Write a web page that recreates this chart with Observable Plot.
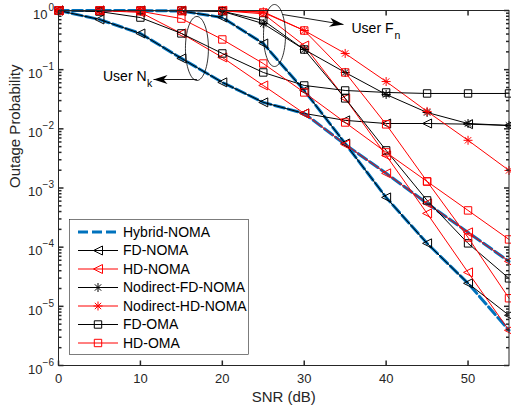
<!DOCTYPE html>
<html><head><meta charset="utf-8">
<script src="https://cdn.jsdelivr.net/npm/d3@7"></script>
<script src="https://cdn.jsdelivr.net/npm/@observablehq/plot@0.6"></script>
<style>
body{margin:0;background:#fff;}
#wrap{position:relative;width:511px;height:414px;font-family:"Liberation Sans",Arial,Helvetica,sans-serif;}
</style></head><body><div id="wrap"></div>
<script>
// ---- data ----
const snr = [0, 5, 10, 15, 20, 25, 30, 35, 40, 45, 50, 55];
const hybridNear  = [1, 0.705, 0.409, 0.155, 0.061, 0.028, 0.0182, 0.00545, 0.00177, 0.00055, 0.000178, 0.0000575];
const hybridFar   = [1, 1, 1, 0.98, 0.762, 0.277, 0.0445, 0.00566, 0.000693, 0.000116, 0.0000245, 0.00000393];
const fdNomaNear  = [1, 0.705, 0.409, 0.155, 0.061, 0.028, 0.0182, 0.0139, 0.0123, 0.0123, 0.012, 0.0114];
const fdNomaFar   = [1, 1, 1, 0.98, 0.762, 0.277, 0.0445, 0.00566, 0.000693, 0.000116, 0.0000245, 0.00000705];
const hdNomaNear  = [1, 0.995, 0.93, 0.41, 0.161, 0.0541, 0.0182, 0.00545, 0.00177, 0.00055, 0.000178, 0.0000575];
const hdNomaFar   = [1, 1, 1, 1, 0.99, 0.88, 0.256, 0.0327, 0.00355, 0.000372, 0.0000375, 0.00000393];
const ndFdNomaFar = [1, 1, 1, 1, 0.97, 0.6, 0.219, 0.0897, 0.0381, 0.0189, 0.0123, 0.0114];
const ndHdNomaFar = [1, 1, 1, 1, 1, 0.95, 0.459, 0.188, 0.063, 0.0197, 0.0064, 0.00198];
const fdOmaNear   = [1, 0.96, 0.76, 0.41, 0.188, 0.0897, 0.0541, 0.0445, 0.0412, 0.0396, 0.0396, 0.0396];
const fdOmaFar    = [1, 1, 1, 1, 0.97, 0.68, 0.219, 0.0327, 0.00432, 0.000617, 0.000116, 0.0000297];
const hdOmaNear   = [1, 1, 0.97, 0.73, 0.324, 0.127, 0.0412, 0.0128, 0.004, 0.00129, 0.000418, 0.000135];
const hdOmaFar    = [1, 1, 1, 1, 1, 0.925, 0.459, 0.0897, 0.0119, 0.00129, 0.000146, 0.0000137];

const legendNames = ["Hybrid-NOMA", "FD-NOMA", "HD-NOMA", "Nodirect-FD-NOMA", "Nodirect-HD-NOMA", "FD-OMA", "HD-OMA"];
const xTickValues = [0, 10, 20, 30, 40, 50];
const xTickLabels = ["0", "10", "20", "30", "40", "50"];
const yTickValues = [1, 0.1, 0.01, 0.001, 0.0001, 0.00001, 0.000001];
const yTickExponents = ["0", "\u22121", "\u22122", "\u22123", "\u22124", "\u22125", "\u22126"];
const xLabel = "SNR (dB)";
const yLabel = "Outage Probability";

// annotations (data coordinates)
const nkEllipse = [{x: 16.9, y: 0.228}];
const nkArrow = [{x1: 16.9, y1: 0.0682, x2: 11.6, y2: 0.0682}];
const nkLabel = [{x: 10.75, y: 0.0767, main: "User N", sub: "k"}];
const fnEllipse = [{x: 26.37, y: 0.378}];
const fnArrow = [{x1: 27.35, y1: 0.856, x2: 34.79, y2: 0.58}];
const fnLabel = [{x: 40.9, y: 0.496, main: "User F", sub: "n"}];

// ---- styles ----
const axisColor = "#262626";
const blue = "#0072BD";
const triLeft = {draw(c){const s=4.5; c.moveTo(-s,0); c.lineTo(s,-s); c.lineTo(s,s); c.closePath();}};
const square = {draw(c){const s=3.7; c.moveTo(-s,-s); c.lineTo(s,-s); c.lineTo(s,s); c.lineTo(-s,s); c.closePath();}};
const star = {draw(c){const r=4.5, d=r*0.707; c.moveTo(-r,0);c.lineTo(r,0);c.moveTo(0,-r);c.lineTo(0,r);c.moveTo(-d,-d);c.lineTo(d,d);c.moveTo(-d,d);c.lineTo(d,-d);}};
const tickUp = {draw(c){c.moveTo(0,0); c.lineTo(0,-5);}};
const tickDown = {draw(c){c.moveTo(0,0); c.lineTo(0,5);}};
const tickRight = {draw(c){c.moveTo(0,0); c.lineTo(5,0);}};
const tickLeft = {draw(c){c.moveTo(0,0); c.lineTo(-5,0);}};
const minorRight = {draw(c){c.moveTo(0,0); c.lineTo(3,0);}};
const minorLeft = {draw(c){c.moveTo(0,0); c.lineTo(-3,0);}};
function ellipseSym(rx, ry){ const k=0.5523; return {draw(c){
  c.moveTo(rx,0); c.bezierCurveTo(rx,k*ry,k*rx,ry,0,ry); c.bezierCurveTo(-k*rx,ry,-rx,k*ry,-rx,0);
  c.bezierCurveTo(-rx,-k*ry,-k*rx,-ry,0,-ry); c.bezierCurveTo(k*rx,-ry,rx,-k*ry,rx,0); c.closePath();}}; }
const arrowHead = {draw(c){c.moveTo(0,0); c.lineTo(-14,-4.5); c.lineTo(-10,0); c.lineTo(-14,4.5); c.closePath();}};

const series = [
  {name: legendNames[0], curves: [hybridNear, hybridFar], color: blue, sym: null, dash: "10,4", width: 3},
  {name: legendNames[1], curves: [fdNomaNear, fdNomaFar], color: "#000000", sym: triLeft},
  {name: legendNames[2], curves: [hdNomaNear, hdNomaFar], color: "#FF0000", sym: triLeft},
  {name: legendNames[3], curves: [ndFdNomaFar], color: "#000000", sym: star},
  {name: legendNames[4], curves: [ndHdNomaFar], color: "#FF0000", sym: star},
  {name: legendNames[5], curves: [fdOmaNear, fdOmaFar], color: "#000000", sym: square},
  {name: legendNames[6], curves: [hdOmaNear, hdOmaFar], color: "#FF0000", sym: square}
];

const minorTicks = [];
for (let e = -6; e < 0; e++) for (let m = 2; m <= 9; m++) minorTicks.push(m * Math.pow(10, e));

const marks = [];
for (const s of series) {
  for (const vals of s.curves) {
    const rows = snr.map((x, i) => ({snr: x, p: vals[i]}));
    marks.push(Plot.line(rows, {x: "snr", y: "p", stroke: s.color, strokeWidth: s.width || 1, strokeDasharray: s.dash || null}));
    if (s.sym) marks.push(Plot.dot(rows, {x: "snr", y: "p", symbol: s.sym, stroke: s.color, fill: "none", strokeWidth: 1}));
  }
}

const chart = Plot.plot({
  width: 511, height: 414,
  marginLeft: 58, marginRight: 2.5, marginTop: 10, marginBottom: 49,
  x: {domain: [0, 55], axis: null},
  y: {type: "log", domain: [1e-6, 1], axis: null},
  style: {fontFamily: '"Liberation Sans", Arial, Helvetica, sans-serif', background: "white", overflow: "visible"},
  marks: [
    ...marks,
    Plot.frame({stroke: axisColor, strokeWidth: 1}),
    Plot.dot(xTickValues, {x: d => d, frameAnchor: "bottom", symbol: tickUp, stroke: axisColor, fill: "none"}),
    Plot.dot(xTickValues, {x: d => d, frameAnchor: "top", symbol: tickDown, stroke: axisColor, fill: "none"}),
    Plot.dot(yTickValues, {y: d => d, frameAnchor: "left", symbol: tickRight, stroke: axisColor, fill: "none"}),
    Plot.dot(yTickValues, {y: d => d, frameAnchor: "right", symbol: tickLeft, stroke: axisColor, fill: "none"}),
    Plot.dot(minorTicks, {y: d => d, frameAnchor: "left", symbol: minorRight, stroke: axisColor, fill: "none"}),
    Plot.dot(minorTicks, {y: d => d, frameAnchor: "right", symbol: minorLeft, stroke: axisColor, fill: "none"}),
    Plot.text(xTickValues, {x: d => d, frameAnchor: "bottom", text: (d, i) => xTickLabels[i], dy: 17, fontSize: 13, fill: axisColor}),
    Plot.text(yTickValues.slice(1), {y: d => d, frameAnchor: "left", text: () => "10", textAnchor: "end", dx: -16, dy: 4, fontSize: 13, fill: axisColor}),
    Plot.text(yTickValues.slice(0, 1), {y: d => d, frameAnchor: "left", text: () => "10", textAnchor: "end", dx: -11, dy: 4, fontSize: 13, fill: axisColor}),
    Plot.text(yTickValues, {y: d => d, frameAnchor: "left", text: (d, i) => yTickExponents[i], textAnchor: "end", dx: -4.5, dy: -3, fontSize: 10, fill: axisColor}),
    Plot.text([xLabel], {frameAnchor: "bottom", text: d => d, dy: 36, fontSize: 15, fill: axisColor}),
    Plot.text([yLabel], {frameAnchor: "left", text: d => d, rotate: -90, dx: -43, fontSize: 15, fill: axisColor}),
    // annotations
    Plot.dot(nkEllipse, {x: "x", y: "y", symbol: ellipseSym(11.5, 32), stroke: "#000", fill: "none", strokeWidth: 0.8}),
    Plot.dot(fnEllipse, {x: "x", y: "y", symbol: ellipseSym(11, 31), stroke: "#000", fill: "none", strokeWidth: 0.8}),
    Plot.link(nkArrow, {x1: "x1", y1: "y1", x2: "x2", y2: "y2", stroke: "#000", strokeWidth: 0.9}),
    Plot.link(fnArrow, {x1: "x1", y1: "y1", x2: "x2", y2: "y2", stroke: "#000", strokeWidth: 0.9}),
    Plot.dot(nkArrow, {x: "x2", y: "y2", symbol: arrowHead, rotate: 180, fill: "#000", stroke: "none"}),
    Plot.dot(fnArrow, {x: "x2", y: "y2", symbol: arrowHead, rotate: 9.3, fill: "#000", stroke: "none"}),
    Plot.text(nkLabel, {x: "x", y: "y", text: "main", textAnchor: "end", fontSize: 14, fill: "#000"}),
    Plot.text(nkLabel, {x: "x", y: "y", text: "sub", textAnchor: "start", dx: 0.5, dy: 7, fontSize: 10.5, fill: "#000"}),
    Plot.text(fnLabel, {x: "x", y: "y", text: "main", textAnchor: "end", fontSize: 14, fill: "#000"}),
    Plot.text(fnLabel, {x: "x", y: "y", text: "sub", textAnchor: "start", dx: 1, dy: 7, fontSize: 10.5, fill: "#000"})
  ]
});
document.getElementById("wrap").appendChild(chart);

// ---- legend (overlay) ----
const lg = d3.select("#wrap").append("svg")
  .attr("width", 511).attr("height", 414)
  .style("position", "absolute").style("left", "0px").style("top", "0px")
  .style("font-family", '"Liberation Sans", Arial, Helvetica, sans-serif');
lg.append("rect").attr("x", 69.5).attr("y", 219.5).attr("width", 179).attr("height", 135)
  .attr("fill", "white").attr("stroke", axisColor).attr("stroke-width", 0.6);
series.forEach((s, i) => {
  const y = 232 + i * 18.5;
  lg.append("line").attr("x1", 78).attr("x2", 118).attr("y1", y).attr("y2", y)
    .attr("stroke", s.color).attr("stroke-width", s.width || 1).attr("stroke-dasharray", s.dash || null);
  if (s.sym) lg.append("path").attr("d", d3.symbol(s.sym)()).attr("transform", `translate(98,${y})`)
    .attr("fill", "none").attr("stroke", s.color).attr("stroke-width", 1);
  lg.append("text").attr("x", 123).attr("y", y).attr("dy", "0.35em").attr("font-size", 14)
    .attr("fill", "#000").text(s.name);
});
</script>
</body></html>
